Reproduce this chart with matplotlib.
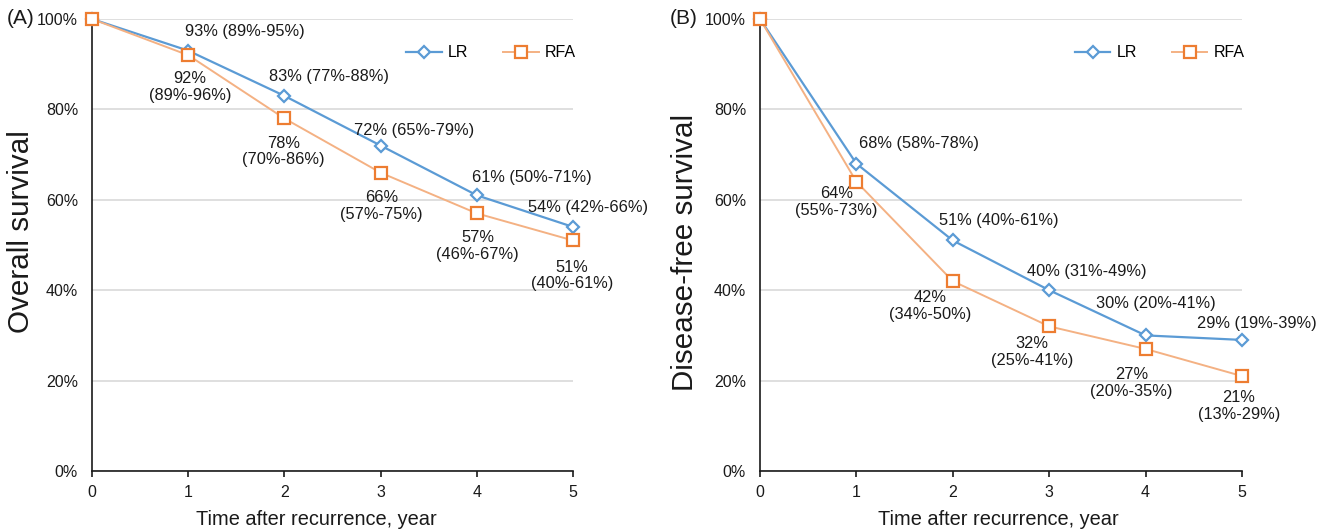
import matplotlib
matplotlib.use("Agg")
import matplotlib.pyplot as plt
from matplotlib.ticker import PercentFormatter

plt.rcParams['font.family'] = ['Liberation Sans', 'DejaVu Sans']

years = [0, 1, 2, 3, 4, 5]
os_lr = [100, 93, 83, 72, 61, 54]
os_rfa = [100, 92, 78, 66, 57, 51]
dfs_lr = [100, 68, 51, 40, 30, 29]
dfs_rfa = [100, 64, 42, 32, 27, 21]

os_lr_labels = ["", "93% (89%-95%)", "83% (77%-88%)", "72% (65%-79%)", "61% (50%-71%)", "54% (42%-66%)"]
os_rfa_labels = ["", "92%\n(89%-96%)", "78%\n(70%-86%)", "66%\n(57%-75%)", "57%\n(46%-67%)", "51%\n(40%-61%)"]
dfs_lr_labels = ["", "68% (58%-78%)", "51% (40%-61%)", "40% (31%-49%)", "30% (20%-41%)", "29% (19%-39%)"]
dfs_rfa_labels = ["", "64%\n(55%-73%)", "42%\n(34%-50%)", "32%\n(25%-41%)", "27%\n(20%-35%)", "21%\n(13%-29%)"]

# label offsets in pixels (dx, dy up)
os_lr_off = [None, (57, 19), (45, 19), (33, 15), (55, 18), (15, 19)]
os_rfa_off = [None, (2, -32), (-1, -33), (1, -33), (1, -33), (-1, -35)]
dfs_lr_off = [None, (63, 20), (46, 20), (38, 19), (10, 32), (15, 16)]
dfs_rfa_off = [None, (-20, -20), (-23, -25), (-17, -26), (-14, -34), (-3, -30)]

BLUE = '#5B9BD5'
ORANGE_LINE = '#F4B183'
ORANGE_EDGE = '#ED7D31'
GRID = '#D9D9D9'

fig = plt.figure(figsize=(13.25, 5.3), dpi=100)
axA = fig.add_axes([92/1325, 1-471/530, 481/1325, 452/530])
axB = fig.add_axes([760/1325, 1-471/530, 482/1325, 452/530])

def panel(ax, lr, rfa, lr_lab, rfa_lab, lr_off, rfa_off, ylabel, letter, letter_x,
          ylab_pos, xlab_pos):
    ax.set_xlim(0, 5)
    ax.set_ylim(0, 100)
    ax.set_yticks([0, 20, 40, 60, 80, 100])
    ax.set_xticks(years)
    ax.yaxis.set_major_formatter(PercentFormatter(decimals=0))
    ax.grid(axis='y', color=GRID, linewidth=1.2)
    ax.set_axisbelow(True)
    for s in ['top', 'right']:
        ax.spines[s].set_visible(False)
    for s in ['left', 'bottom']:
        ax.spines[s].set_color('#1a1a1a')
        ax.spines[s].set_linewidth(1.2)
    ax.tick_params(axis='y', length=0, pad=10, labelsize=11.5, colors='#1a1a1a')
    ax.tick_params(axis='x', length=4, width=1.2, pad=6, labelsize=11.5, colors='#1a1a1a')
    ax.plot(years, lr, color=BLUE, lw=1.6, marker='D', ms=6.5, mfc='white',
            mec=BLUE, mew=1.6, label='LR', clip_on=False, zorder=3)
    ax.plot(years, rfa, color=ORANGE_LINE, lw=1.4, marker='s', ms=8.5, mfc='white',
            mec=ORANGE_EDGE, mew=1.6, label='RFA', clip_on=False, zorder=4)
    for i in range(1, 6):
        ax.annotate(lr_lab[i], (years[i], lr[i]), xytext=lr_off[i], textcoords='offset pixels',
                    ha='center', va='center', fontsize=11.8, color='#1a1a1a')
        ax.annotate(rfa_lab[i], (years[i], rfa[i]), xytext=rfa_off[i], textcoords='offset pixels',
                    ha='center', va='center', fontsize=11.8, color='#1a1a1a', linespacing=1.15)
    ax.set_xlabel('Time after recurrence, year', fontsize=14.4, color='#1a1a1a', va='center')
    ax.xaxis.set_label_coords(*xlab_pos)
    ax.set_ylabel(ylabel, fontsize=21.3, color='#1a1a1a', va='center')
    ax.yaxis.set_label_coords(*ylab_pos)
    ax.legend(loc='center', bbox_to_anchor=(0.83, 0.925), ncol=2, frameon=False,
              fontsize=11.5, handlelength=2.2, columnspacing=2.2, handletextpad=0.4)
    fig.text(letter_x, 1-19/530, letter, fontsize=15, ha='center', va='center', color='#1a1a1a')

panel(axA, os_lr, os_rfa, os_lr_labels, os_rfa_labels, os_lr_off, os_rfa_off,
      'Overall survival', '(A)', 21/1325, (-0.1476, 0.529), (0.4657, -0.1084))
panel(axB, dfs_lr, dfs_rfa, dfs_lr_labels, dfs_rfa_labels, dfs_lr_off, dfs_rfa_off,
      'Disease-free survival', '(B)', 684/1325, (-0.156, 0.4845), (0.4938, -0.1084))

fig.savefig('out.png', dpi=100)
